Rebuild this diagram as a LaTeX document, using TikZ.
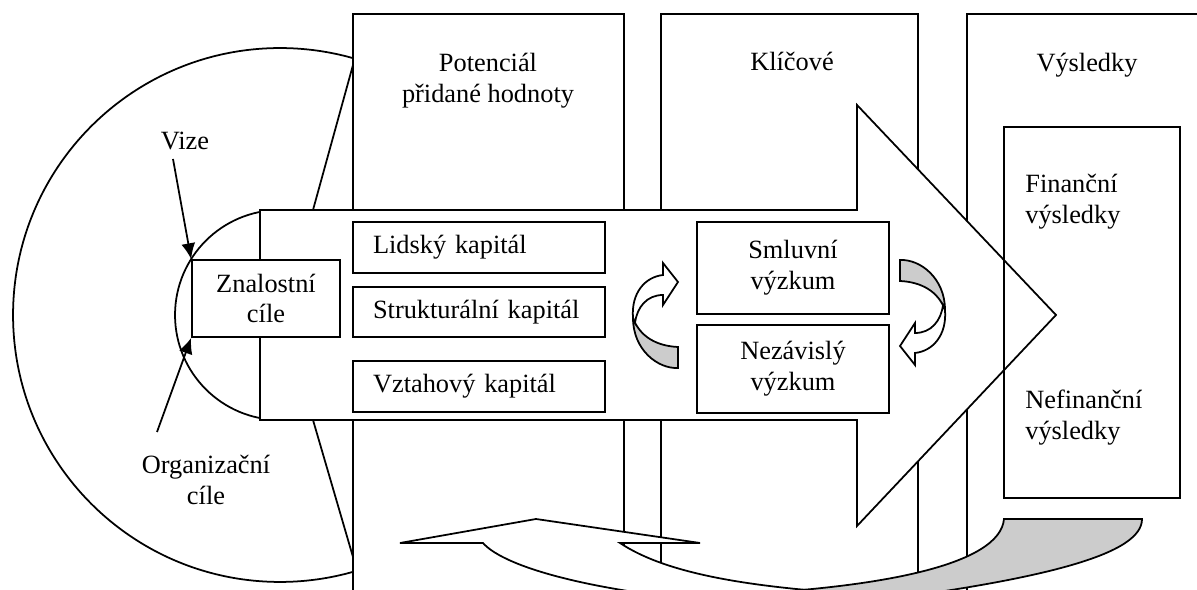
\documentclass[tikz,border=0pt]{standalone}
\usepackage{fontspec}
\setmainfont{Liberation Serif}
\usetikzlibrary{arrows.meta}
\definecolor{ribbon}{RGB}{204,204,204}
\tikzset{
  outline/.style={draw=black, line width=1pt},
  panel/.style={outline, fill=white},
  lbl/.style={font=\fontsize{15}{17.6}\selectfont, inner sep=0pt},
  kbox/.style={panel, lbl, inner xsep=0.4cm, text width=4.24cm, align=left, minimum height=#1},
  cbox/.style={panel, lbl, align=center, minimum width=3.84cm, minimum height=#1},
  pointer/.style={line width=1pt, -{Latex[length=9pt,width=8pt]}},
  uturn/.pic={
    \path[outline, fill=ribbon] (23,32) -- (23,53) .. controls (3,54) and (-22,35) .. (-22,3)
       .. controls (-15,22) and (2,31) .. (23,32) -- cycle;
    \path[outline, fill=white] (-22,3) .. controls (-24,-22) and (-10,-38) .. (8,-40)
       -- (8,-52) -- (23,-33) -- (8,-10) -- (8,-20)
       .. controls (-8,-20) and (-18,-8) .. (-20,8) -- cycle;
  }
}
\begin{document}
\begin{tikzpicture}[x=0.02cm, y=-0.02cm]
\useasboundingbox (0,0) rectangle (1197,590);
\clip (0,0) rectangle (1197,590);
% outer circle and funnel lines
\draw[outline, fill=white] (280,315) circle[radius=5.34cm];
\draw[outline] (353,65) -- (313,210);
\draw[outline] (313,420) -- (353,557);
% columns
\path[panel] (353,14) rectangle (624,620);
\path[panel] (661,14) rectangle (918,620);
\path[panel] (967,14) rectangle (1207,620);
% inner circle
\draw[outline, fill=white] (280,315) circle[radius=2.1cm];
% big arrow
\path[panel] (260,210) -- (857,210) -- (857,105) -- (1056,315) -- (857,526) -- (857,420) -- (260,420) -- cycle;
% boxes
\node[panel, lbl, align=center, minimum width=2.96cm, minimum height=1.54cm] (zc) at (266,298.5) {Znalostní\\cíle};
\node[kbox=1.02cm] (lid) at (479,247.5) {Lidský kapitál};
\node[kbox=1.0cm] (str) at (479,312) {Strukturální kapitál};
\node[kbox=1.02cm] (vzt) at (479,386.5) {Vztahový kapitál};
\node[cbox=1.84cm] (smv) at (793,268) {Smluvní\\výzkum};
\node[cbox=1.76cm] (nez) at (793,369) {Nezávislý\\výzkum};
\node[outline, inner sep=0pt, minimum width=3.52cm, minimum height=7.42cm] (res) at (1092,312.5) {};
% small U-turn arrows
\pic (ul) at (655,315) {uturn};
\pic[rotate=180] (ur) at (923,313) {uturn};
% bottom ribbon arrow
\path[panel] (400,543) -- (536,519) -- (700,543) -- (620,543) .. controls (665,573) and (745,587) .. (860,594)
  -- (860,620) -- (760,620) -- (760,605) .. controls (600,595) and (505,568) .. (483,543) -- cycle;
\path[outline, fill=ribbon] (700,596) .. controls (880,590) and (1000,565) .. (1004,519) -- (1142,519)
  .. controls (1142,552) and (1060,582) .. (780,612) -- cycle;
% column headings and texts
\node[lbl, align=center, anchor=north] (pot) at (488,53) {Potenciál\\přidané hodnoty};
\node[lbl, anchor=base] (kli) at (792,71) {Klíčové};
\node[lbl, anchor=base] (vys) at (1087,72) {Výsledky};
\node[lbl, align=left, anchor=north west] (fin) at (1025,174) {Finanční\\výsledky};
\node[lbl, align=left, anchor=north west] (nef) at (1025,390) {Nefinanční\\výsledky};
% labels with pointers
\node[lbl, anchor=base] (vize) at (185,150) {Vize};
\node[lbl, align=center, anchor=north] (org) at (206,455) {Organizační\\cíle};
\coordinate (vizetail) at (173,159);
\coordinate (orgtail) at (157,432);
\draw[pointer] (vizetail) -- (zc.north west);
\draw[pointer] (orgtail) -- (zc.south west);
\end{tikzpicture}
\end{document}
